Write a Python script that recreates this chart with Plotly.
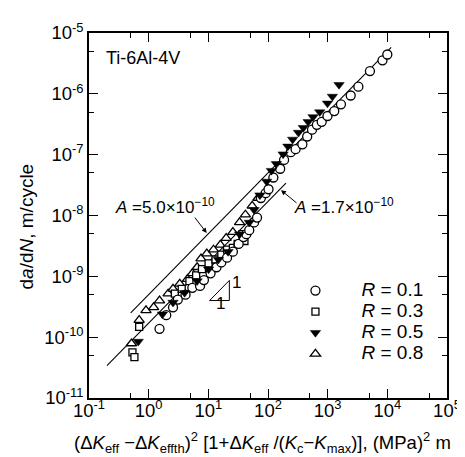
import plotly.graph_objects as go
import numpy as np

# ---- data ----
x_r01 = [1.52, 1.97, 2.56, 3.08, 4.15, 5.39, 7.26, 8.43, 10.9, 13.7, 16.5, 20.6, 25.8, 32.2, 38.8, 43.4,
         48.5, 58.5, 65.5, 75.9, 91.4, 102, 123, 160, 186, 241, 290, 377, 454, 547, 659, 794, 993, 1290,
         1670, 2430, 3270, 5110, 8300, 10000]
y_r01 = [1.37e-10, 2.30e-10, 3.09e-10, 4.15e-10, 4.99e-10, 6.47e-10, 6.96e-10, 8.69e-10, 1.12e-9, 1.41e-9,
         1.69e-9, 2.03e-9, 2.54e-9, 3.41e-9, 4.42e-9, 4.93e-9, 5.73e-9, 7.69e-9, 9.25e-9, 1.94e-8,
         2.33e-8, 2.70e-8, 4.21e-8, 5.87e-8, 8.19e-8, 1.10e-7, 1.23e-7, 1.48e-7, 1.99e-7, 2.58e-7,
         3.10e-7, 3.46e-7, 4.32e-7, 5.20e-7, 6.73e-7, 9.39e-7, 1.31e-6, 2.37e-6, 3.55e-6, 4.43e-6]

x_r03 = [0.535, 0.577, 0.693, 2.75, 3.58, 4.82, 6.25, 7.82, 10.1, 13.2, 16.5, 20.6, 25.8, 31.0, 40.3, 37.4]
y_r03 = [5.64e-11, 4.69e-11, 1.48e-10, 5.18e-10, 6.23e-10, 8.37e-10, 1.04e-9, 1.31e-9, 1.63e-9, 1.89e-9,
         2.27e-9, 2.74e-9, 2.94e-9, 3.41e-9, 3.81e-9, 4.93e-9]

x_r05 = [0.668, 1.70, 2.56, 4.00, 6.49, 10.1, 14.7, 21.4, 33.4, 48.5, 58.5, 73.1, 94.9, 114, 138, 179,
         215, 259, 324, 391, 471, 568, 736, 993, 1200, 1550]
y_r05 = [8.47e-11, 2.38e-10, 3.72e-10, 5.37e-10, 8.37e-10, 1.31e-9, 1.89e-9, 2.54e-9, 4.93e-9, 7.69e-9,
         1.24e-8, 2.16e-8, 3.63e-8, 5.46e-8, 7.06e-8, 1.02e-7, 1.37e-7, 1.78e-7, 2.31e-7, 2.77e-7,
         3.46e-7, 4.17e-7, 5.01e-7, 6.98e-7, 9.05e-7, 1.41e-6]

x_r08 = [0.515, 0.693, 0.902, 1.21, 1.52, 2.12, 2.56, 3.32, 4.47, 5.39, 6.49, 7.53, 9.42, 12.2, 15.9,
         19.9, 25.8, 33.4, 41.8, 54.3, 67.9]
y_r08 = [7.87e-11, 1.91e-10, 2.76e-10, 3.09e-10, 4.00e-10, 5.18e-10, 6.23e-10, 7.50e-10, 9.02e-10,
         1.12e-9, 1.41e-9, 1.96e-9, 2.36e-9, 2.74e-9, 3.29e-9, 4.26e-9, 5.32e-9, 7.69e-9, 1.03e-8,
         1.44e-8, 1.94e-8]

# fit lines  da/dN = A * X^1
A_upper, A_lower = 5.0e-10, 1.7e-10
x_upper = [0.5, 1.16e4]
x_lower = [0.2, 200]
slope_n = 1.0

# slope triangle (1:1)
tri_x = [10.5, 22.5]
tri_y0 = 4.0e-10

x_tickvals = [1e-1, 1e0, 1e1, 1e2, 1e3, 1e4, 1e5]
x_ticktext = ["10<sup>-1</sup>", "10<sup>0</sup>", "10<sup>1</sup>", "10<sup>2</sup>",
              "10<sup>3</sup>", "10<sup>4</sup>", "10<sup>5</sup>"]
y_tickvals = [1e-11, 1e-10, 1e-9, 1e-8, 1e-7, 1e-6, 1e-5]
y_ticktext = ["10<sup>-11</sup>", "10<sup>-10</sup>", "10<sup>-9</sup>", "10<sup>-8</sup>",
              "10<sup>-7</sup>", "10<sup>-6</sup>", "10<sup>-5</sup>"]
x_minor = [5e-1, 5e0, 5e1, 5e2, 5e3, 5e4]
y_minor = [5e-11, 5e-10, 5e-9, 5e-8, 5e-7, 5e-6]

FONT = "Arial, Liberation Sans, sans-serif"
W, H = 465, 457
L, R, T, B = 81, 13, 16, 67
PW, PH = W - L - R, H - T - B


def px(x):
    return (x - L) / PW


def py(y):
    return (H - B - y) / PH


def leg(s):
    return "<span style='font-size:19px'>" + s + "</span>"


fig = go.Figure()

# fit lines
fig.add_trace(go.Scatter(x=x_upper, y=[A_upper * v ** slope_n for v in x_upper], mode="lines",
                         line=dict(color="black", width=1.1), showlegend=False, hoverinfo="skip"))
fig.add_trace(go.Scatter(x=x_lower, y=[A_lower * v ** slope_n for v in x_lower], mode="lines",
                         line=dict(color="black", width=1.1), showlegend=False, hoverinfo="skip"))

mk_line = dict(color="black", width=1.3)
fig.add_trace(go.Scatter(x=x_r08, y=y_r08, mode="markers", name=leg("<i>R</i> = 0.8"),
                         marker=dict(symbol="triangle-up", size=9, color="white", line=mk_line),
                         legendrank=4))
fig.add_trace(go.Scatter(x=x_r03, y=y_r03, mode="markers", name=leg("<i>R</i> = 0.3"),
                         marker=dict(symbol="square", size=7, color="white", line=mk_line),
                         legendrank=2))
fig.add_trace(go.Scatter(x=x_r01, y=y_r01, mode="markers", name=leg("<i>R</i> = 0.1"),
                         marker=dict(symbol="circle", size=9, color="white", line=mk_line),
                         legendrank=1))
fig.add_trace(go.Scatter(x=x_r05, y=y_r05, mode="markers", name=leg("<i>R</i> = 0.5"),
                         marker=dict(symbol="triangle-down", size=9, color="black",
                                     line=dict(color="black", width=0.5)),
                         legendrank=3))

# slope triangle
ty1 = tri_y0 * (tri_x[1] / tri_x[0]) ** slope_n
fig.add_trace(go.Scatter(x=[tri_x[0], tri_x[1], tri_x[1], tri_x[0]], y=[tri_y0, tri_y0, ty1, tri_y0],
                         mode="lines", line=dict(color="black", width=1), showlegend=False,
                         hoverinfo="skip"))

ann = []
ann.append(dict(text="Ti-6Al-4V", x=px(97), y=py(42), xref="paper", yref="paper", xanchor="left",
                yanchor="middle", showarrow=False, font=dict(size=18, family=FONT, color="black")))
ann.append(dict(text="<i>A</i> =5.0×10<sup>−10</sup>", x=px(160), y=py(193), xref="paper", yref="paper",
                xanchor="center", yanchor="middle", showarrow=False,
                font=dict(size=17, family=FONT, color="black")))
ann.append(dict(text="<i>A</i> =1.7×10<sup>−10</sup>", x=px(345), y=py(193), xref="paper", yref="paper",
                xanchor="center", yanchor="middle", showarrow=False,
                font=dict(size=17, family=FONT, color="black")))
# arrows
ann.append(dict(text="", x=px(203), y=py(221), xref="paper", yref="paper", showarrow=True,
                ax=190 - 203, ay=204 - 221, arrowhead=2, arrowsize=1, arrowwidth=1, arrowcolor="black"))
ann.append(dict(text="", x=px(280), y=py(177), xref="paper", yref="paper", showarrow=True,
                ax=297 - 280, ay=191 - 177, arrowhead=2, arrowsize=1, arrowwidth=1, arrowcolor="black"))
ann.append(dict(text="1", x=px(234), y=py(283), xref="paper", yref="paper", showarrow=False,
                font=dict(size=17, family=FONT, color="black")))
ann.append(dict(text="1", x=px(217), y=py(305), xref="paper", yref="paper", showarrow=False,
                font=dict(size=17, family=FONT, color="black")))
# axis titles
ann.append(dict(text="d<i>a</i>/d<i>N</i>, m/cycle", x=px(16), y=py(214), xref="paper", yref="paper",
                textangle=-90, showarrow=False, xanchor="center", yanchor="middle",
                font=dict(size=19, family=FONT, color="black")))
ann.append(dict(text="(Δ<i>K</i><sub>eff</sub> −Δ<i>K</i><sub>effth</sub>)<sup>2</sup> [1+Δ<i>K</i><sub>eff</sub> /(<i>K</i><sub>c</sub>−<i>K</i><sub>max</sub>)], (MPa)<sup>2</sup> m",
                x=px(261), y=py(436), xref="paper", yref="paper", showarrow=False,
                xanchor="center", yanchor="middle", font=dict(size=18.5, family=FONT, color="black")))

axis_common = dict(type="log", ticks="inside", ticklen=9, tickwidth=1.2, tickcolor="black",
                   showline=True, linecolor="black", linewidth=1.5, mirror="ticks", showgrid=False,
                   zeroline=False, tickfont=dict(size=18.5, family=FONT, color="black"),
                   tickmode="array")

fig.update_layout(
    width=W, height=H, autosize=False,
    margin=dict(l=L, r=R, t=T, b=B, pad=0),
    paper_bgcolor="white", plot_bgcolor="white",
    font=dict(family=FONT, color="black"),
    xaxis=dict(axis_common, range=[-1, 5], tickvals=x_tickvals, ticktext=x_ticktext,
               ticklabelstandoff=-5,
               minor=dict(tickmode="array", tickvals=x_minor, ticks="inside", ticklen=5, tickwidth=1.2,
                          tickcolor="black", showgrid=False)),
    yaxis=dict(axis_common, range=[-11, -5], tickvals=y_tickvals, ticktext=y_ticktext,
               minor=dict(tickmode="array", tickvals=y_minor, ticks="inside", ticklen=5, tickwidth=1.2,
                          tickcolor="black", showgrid=False)),
    showlegend=True,
    legend=dict(x=px(268), y=py(264), xanchor="left", yanchor="top", bgcolor="rgba(0,0,0,0)",
                borderwidth=0, font=dict(size=13.9, family=FONT, color="black"), itemwidth=82,
                tracegroupgap=0),
    annotations=ann,
)

fig.write_html("out.html")
